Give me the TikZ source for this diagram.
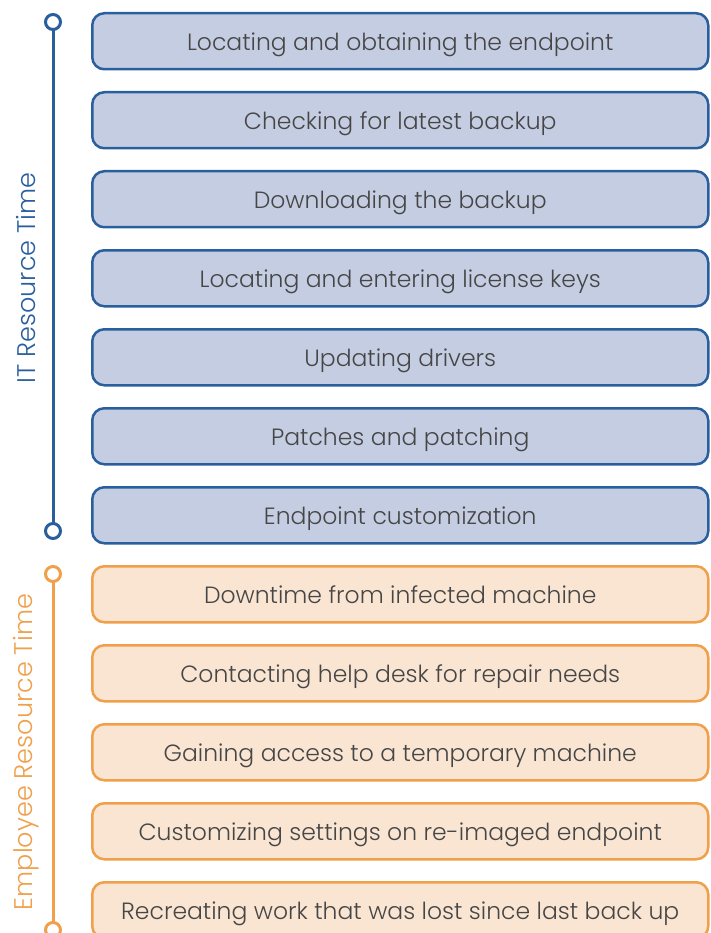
\documentclass[tikz,border=0pt]{standalone}
\usepackage{fontspec}
\setmainfont{Poppins}[UprightFont=* Light]
\definecolor{bstroke}{HTML}{2A5F9E}
\definecolor{bfill}{HTML}{C5CDE2}
\definecolor{ostroke}{HTML}{F0A04B}
\definecolor{ofill}{HTML}{F9E5D2}
\definecolor{txt}{HTML}{464646}
\begin{document}
\begin{tikzpicture}[x=1pt,y=-1pt,
  itembox/.style={rounded corners=12pt,line width=2.5pt,minimum width=616pt,minimum height=56pt,anchor=north west,text=txt,font=\fontsize{23.5}{26}\selectfont,inner sep=0pt,text depth=0pt},
  bluebox/.style={itembox,draw=bstroke,fill=bfill},
  orangebox/.style={itembox,draw=ostroke,fill=ofill},
  dot/.style={circle,line width=3pt,minimum size=15pt,inner sep=0pt,fill=white}]
\useasboundingbox (0,0) rectangle (711,933);
\begin{scope}
\clip (0,0) rectangle (711,933);
\node[bluebox] (b1) at (91,12) {Locating and obtaining the endpoint};
\node[bluebox] (b2) at (91,91) {Checking for latest backup};
\node[bluebox] (b3) at (91,170) {Downloading the backup};
\node[bluebox] (b4) at (91,249) {Locating and entering license keys};
\node[bluebox] (b5) at (91,328) {Updating drivers};
\node[bluebox] (b6) at (91,407) {Patches and patching};
\node[bluebox] (b7) at (91,486) {Endpoint customization};
\node[orangebox] (o1) at (91,565) {Downtime from infected machine};
\node[orangebox] (o2) at (91,644) {Contacting help desk for repair needs};
\node[orangebox] (o3) at (91,723) {Gaining access to a temporary machine};
\node[orangebox] (o4) at (91,802) {Customizing settings on re-imaged endpoint};
\node[orangebox] (o5) at (91,881) {Recreating work that was lost since last back up};
\draw[bstroke,line width=3pt] (53,22) -- (53,531);
\node[dot,draw=bstroke] (bt) at (53,22) {};
\node[dot,draw=bstroke] (bb) at (53,531) {};
\draw[ostroke,line width=3pt] (53,574) -- (53,930);
\node[dot,draw=ostroke] (ot) at (53,574) {};
\node[dot,draw=ostroke] (ob) at (53,930) {};
\end{scope}
\node[rotate=90,text=bstroke,font=\fontsize{25.5}{28}\selectfont] (itl) at (26,278) {IT Resource Time};
\node[rotate=90,text=ostroke,font=\fontsize{25.5}{28}\selectfont] (eml) at (26,752) {Employee Resource Time};
\end{tikzpicture}
\end{document}
